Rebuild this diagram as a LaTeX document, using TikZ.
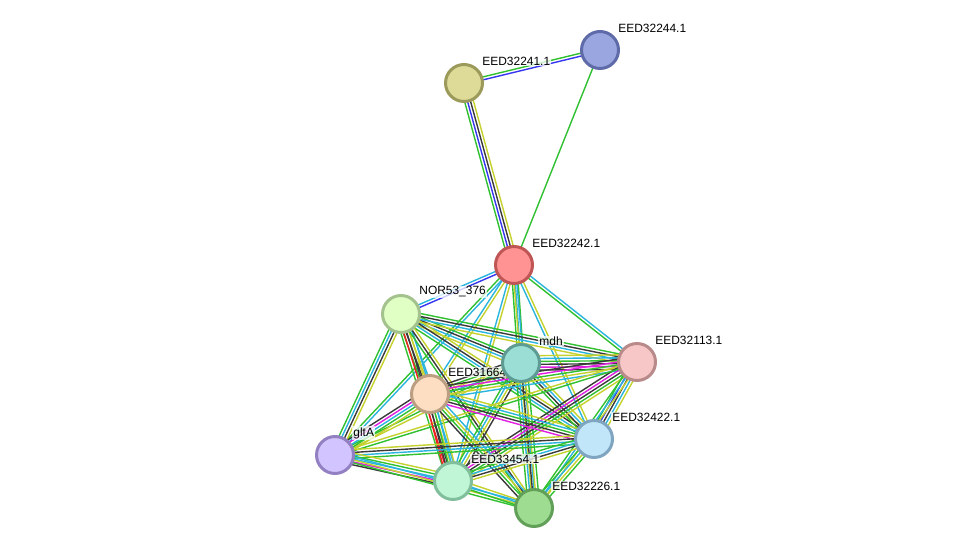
\documentclass[tikz,border=0pt]{standalone}
\usepackage{fontspec}
\setmainfont{Liberation Sans}
\usepackage{tikz}
\usetikzlibrary{calc}
\pgfdeclarelayer{background}
\pgfsetlayers{background,main}

% evidence colours
\definecolor{txtm}{HTML}{C5D12C}
\definecolor{coex}{HTML}{3A3A3A}
\definecolor{dbase}{HTML}{2BB4DD}
\definecolor{expt}{HTML}{E01FE0}
\definecolor{neigh}{HTML}{30C030}
\definecolor{fusion}{HTML}{F02020}
\definecolor{cooc}{HTML}{3636F0}

% node colours
\definecolor{f244}{HTML}{9AA6E0}\definecolor{d244}{HTML}{5F6BA8}
\definecolor{f241}{HTML}{DEDB98}\definecolor{d241}{HTML}{9C9A5A}
\definecolor{f242}{HTML}{FF9393}\definecolor{d242}{HTML}{C05555}
\definecolor{f376}{HTML}{E0FFC4}\definecolor{d376}{HTML}{A4C28E}
\definecolor{fmdh}{HTML}{9ADED6}\definecolor{dmdh}{HTML}{5E9C93}
\definecolor{f113}{HTML}{F7C6C6}\definecolor{d113}{HTML}{B88A8A}
\definecolor{f664}{HTML}{FDDEC2}\definecolor{d664}{HTML}{BC9F82}
\definecolor{fglt}{HTML}{D2C4FE}\definecolor{dglt}{HTML}{9380C2}
\definecolor{f422}{HTML}{C2E6F9}\definecolor{d422}{HTML}{7FA5C0}
\definecolor{f454}{HTML}{C0F6D6}\definecolor{d454}{HTML}{80BE9C}
\definecolor{f226}{HTML}{9EDC92}\definecolor{d226}{HTML}{62A05A}

% one line per evidence colour, side by side
\newcommand{\ppiedge}[3]{%
  \foreach \ec [count=\ei] in {#3} {\xdef\edgelines{\ei}}%
  \foreach \ec [count=\ei] in {#3} {%
    \pgfmathsetmacro{\eoff}{(\ei-(\edgelines+1)/2)*1.65}%
    \draw[color=\ec, line width=0.8pt] ($(#1)!\eoff pt!90:(#2)$) -- ($(#2)!\eoff pt!-90:(#1)$);
  }%
}

\begin{document}
\begin{tikzpicture}[x=0.02cm, y=-0.02cm,
			protnode/.style={circle, line width=1.7pt, minimum size=0.74cm, inner sep=0pt},
			lbl/.style={anchor=west, inner sep=0.6pt, fill=white, fill opacity=0.75, text opacity=1,
				font=\fontsize{6.8pt}{8pt}\selectfont},
			]
			\useasboundingbox (0,0) rectangle (976,553);
			%Nodes
			\node[protnode, fill=f244, draw=d244] (n244) at (600,50)  {};
			\node[protnode, fill=f241, draw=d241] (n241) at (464,83)  {};
			\node[protnode, fill=f242, draw=d242] (n242) at (514,265) {};
			\node[protnode, fill=f376, draw=d376] (n376) at (401,314) {};
			\node[protnode, fill=f664, draw=d664] (n664) at (430,394) {};
			\node[protnode, fill=fmdh, draw=dmdh] (nmdh) at (521,363) {};
			\node[protnode, fill=f113, draw=d113] (n113) at (637,362) {};
			\node[protnode, fill=fglt, draw=dglt] (nglt) at (335,455) {};
			\node[protnode, fill=f422, draw=d422] (n422) at (594,439) {};
			\node[protnode, fill=f454, draw=d454] (n454) at (453,481) {};
			\node[protnode, fill=f226, draw=d226] (n226) at (534,508) {};

			\begin{pgfonlayer}{background}
			% top part
			\ppiedge{n241}{n244}{cooc,neigh}
			\ppiedge{n241}{n242}{neigh,cooc,coex,txtm}
			\ppiedge{n244}{n242}{neigh}
			% EED32242.1
			\ppiedge{n242}{n376}{dbase,cooc}
			\ppiedge{n242}{nmdh}{neigh,dbase,neigh}
			\ppiedge{n242}{n113}{neigh,dbase}
			\ppiedge{n242}{n422}{dbase,txtm}
			\ppiedge{n242}{n226}{txtm,dbase}
			\ppiedge{n242}{n664}{dbase,txtm}
			\ppiedge{n242}{n454}{dbase,txtm}
			\ppiedge{n242}{nglt}{neigh,dbase}
			% NOR53_376
			\ppiedge{n376}{nmdh}{txtm,dbase,coex,neigh}
			\ppiedge{n376}{n113}{txtm,dbase,coex,neigh}
			\ppiedge{n376}{n664}{neigh,coex,txtm,dbase}
			\ppiedge{n376}{nglt}{neigh,dbase,coex,txtm}
			\ppiedge{n376}{n422}{neigh,dbase,coex,txtm}
			\ppiedge{n376}{n454}{neigh,fusion,coex,txtm,dbase}
			\ppiedge{n376}{n226}{neigh,coex,txtm}
			% mdh
			\ppiedge{nmdh}{n113}{coex,expt,coex,neigh,dbase,txtm}
			\ppiedge{nmdh}{n664}{coex,neigh,txtm,dbase}
			\ppiedge{nmdh}{nglt}{neigh,txtm}
			\ppiedge{nmdh}{n422}{neigh,coex,dbase,txtm}
			\ppiedge{nmdh}{n454}{neigh,dbase,txtm,coex}
			\ppiedge{nmdh}{n226}{neigh,dbase,coex,txtm,neigh}
			% EED32113.1
			\ppiedge{n113}{n664}{coex,expt,neigh,txtm,dbase}
			\ppiedge{n113}{n422}{neigh,cooc,coex,dbase,txtm}
			\ppiedge{n113}{n454}{coex,expt,coex,neigh,txtm}
			\ppiedge{n113}{n226}{neigh,dbase,txtm}
			\ppiedge{n113}{nglt}{txtm,neigh}
			% EED31664
			\ppiedge{n664}{nglt}{coex,expt,dbase,neigh,txtm}
			\ppiedge{n664}{n422}{expt,coex,neigh,dbase,txtm}
			\ppiedge{n664}{n454}{fusion,coex,neigh,dbase,txtm}
			\ppiedge{n664}{n226}{coex,neigh,txtm,dbase}
			% gltA
			\ppiedge{nglt}{n422}{neigh,dbase,coex,txtm}
			\ppiedge{nglt}{n454}{coex,expt,dbase,neigh,txtm}
			\ppiedge{nglt}{n226}{neigh,txtm,dbase}
			% EED32422.1, EED33454.1
			\ppiedge{n422}{n454}{neigh,dbase,coex,txtm}
			\ppiedge{n422}{n226}{neigh,dbase,txtm,neigh}
			\ppiedge{n454}{n226}{neigh,dbase,txtm}

			% Labels
			\node[lbl] (l244) at ($(n244)+(17,-22)$) {EED32244.1};
			\node[lbl] (l241) at ($(n241)+(17,-22)$) {EED32241.1};
			\node[lbl] (l242) at ($(n242)+(17,-22)$) {EED32242.1};
			\node[lbl] (l376) at ($(n376)+(17,-22)$) {NOR53\_376};
			\node[lbl] (l664) at ($(n664)+(17,-22)$) {EED31664};
			\node[lbl] (lmdh) at ($(nmdh)+(17,-22)$) {mdh};
			\node[lbl] (l113) at ($(n113)+(17,-22)$) {EED32113.1};
			\node[lbl] (lglt) at ($(nglt)+(17,-22)$) {gltA};
			\node[lbl] (l422) at ($(n422)+(17,-22)$) {EED32422.1};
			\node[lbl] (l454) at ($(n454)+(17,-22)$) {EED33454.1};
			\node[lbl] (l226) at ($(n226)+(17,-22)$) {EED32226.1};
			\end{pgfonlayer}
		\end{tikzpicture}
\end{document}
